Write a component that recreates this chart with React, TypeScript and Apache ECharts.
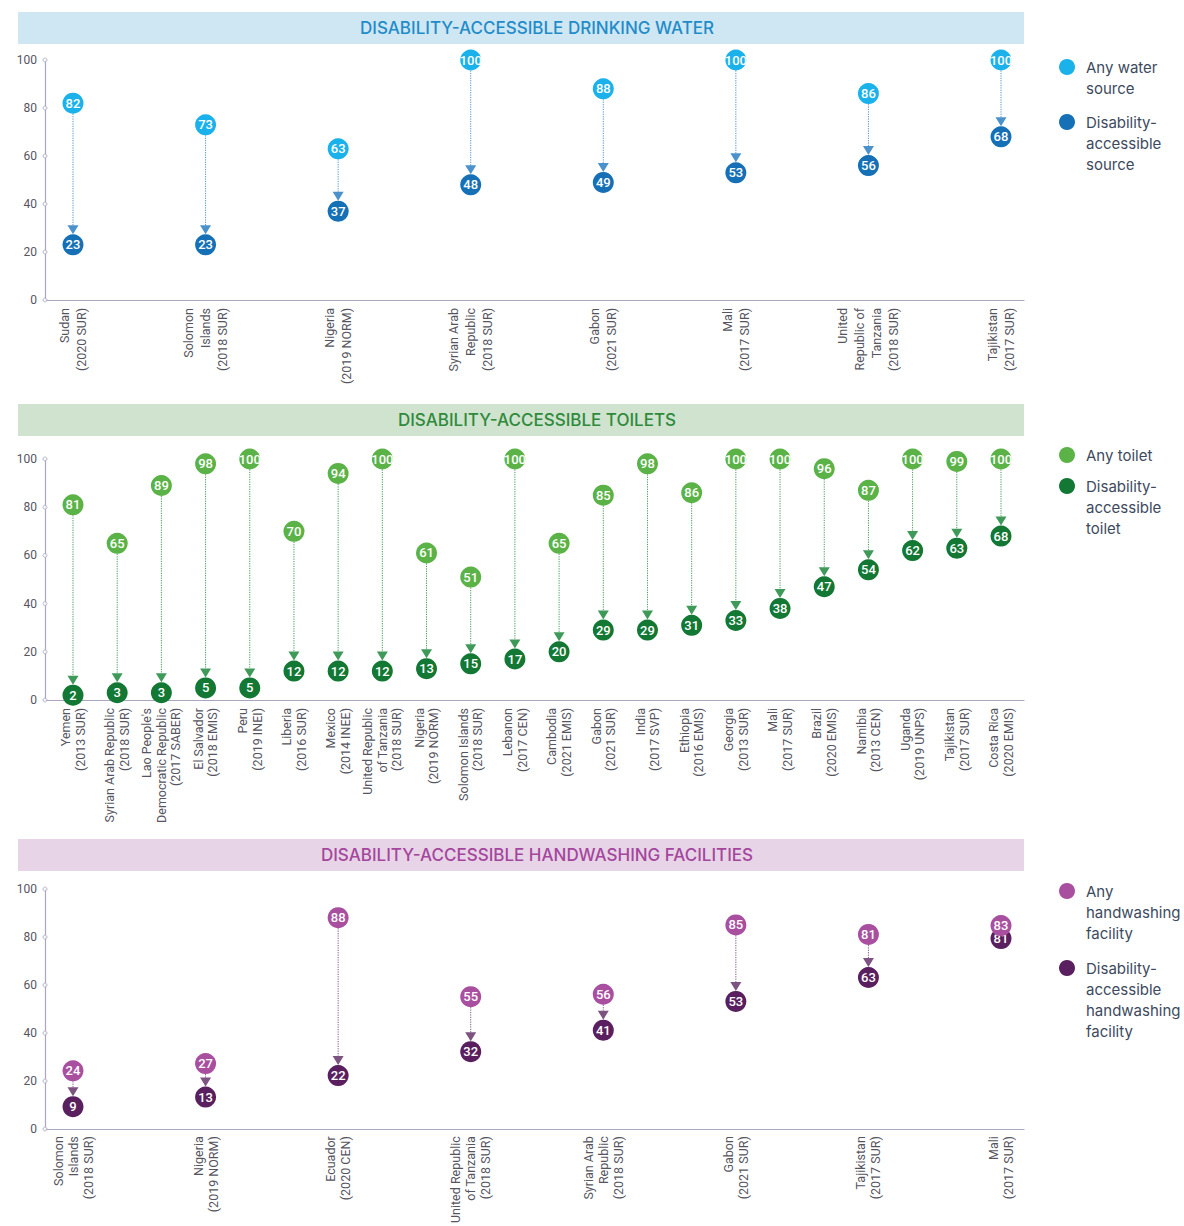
import React, { useEffect, useRef } from "react";
import * as echarts from "echarts";

// ---------- DATA ----------
const waterCategories = [
  "Sudan\n(2020 SUR)",
  "Solomon\nIslands\n(2018 SUR)",
  "Nigeria\n(2019 NORM)",
  "Syrian Arab\nRepublic\n(2018 SUR)",
  "Gabon\n(2021 SUR)",
  "Mali\n(2017 SUR)",
  "United\nRepublic of\nTanzania\n(2018 SUR)",
  "Tajikistan\n(2017 SUR)",
];
const waterAny = [82, 73, 63, 100, 88, 100, 86, 100];
const waterAccessible = [23, 23, 37, 48, 49, 53, 56, 68];

const toiletCategories = [
  "Yemen\n(2013 SUR)",
  "Syrian Arab Republic\n(2018 SUR)",
  "Lao People's\nDemocratic Republic\n(2017 SABER)",
  "El Salvador\n(2018 EMIS)",
  "Peru\n(2019 INEI)",
  "Liberia\n(2016 SUR)",
  "Mexico\n(2014 INEE)",
  "United Republic\nof Tanzania\n(2018 SUR)",
  "Nigeria\n(2019 NORM)",
  "Solomon Islands\n(2018 SUR)",
  "Lebanon\n(2017 CEN)",
  "Cambodia\n(2021 EMIS)",
  "Gabon\n(2021 SUR)",
  "India\n(2017 SVP)",
  "Ethiopia\n(2016 EMIS)",
  "Georgia\n(2013 SUR)",
  "Mali\n(2017 SUR)",
  "Brazil\n(2020 EMIS)",
  "Namibia\n(2013 CEN)",
  "Uganda\n(2019 UNPS)",
  "Tajikistan\n(2017 SUR)",
  "Costa Rica\n(2020 EMIS)",
];
const toiletAny = [81, 65, 89, 98, 100, 70, 94, 100, 61, 51, 100, 65, 85, 98, 86, 100, 100, 96, 87, 100, 99, 100];
const toiletAccessible = [2, 3, 3, 5, 5, 12, 12, 12, 13, 15, 17, 20, 29, 29, 31, 33, 38, 47, 54, 62, 63, 68];

const handCategories = [
  "Solomon\nIslands\n(2018 SUR)",
  "Nigeria\n(2019 NORM)",
  "Ecuador\n(2020 CEN)",
  "United Republic\nof Tanzania\n(2018 SUR)",
  "Syrian Arab\nRepublic\n(2018 SUR)",
  "Gabon\n(2021 SUR)",
  "Tajikistan\n(2017 SUR)",
  "Mali\n(2017 SUR)",
];
const handAny = [24, 27, 88, 55, 56, 85, 81, 83];
const handAccessible = [9, 13, 22, 32, 41, 53, 63, 81];

const yTicks = [0, 20, 40, 60, 80, 100];

const panelTitles = [
  "DISABILITY-ACCESSIBLE DRINKING WATER",
  "DISABILITY-ACCESSIBLE TOILETS",
  "DISABILITY-ACCESSIBLE HANDWASHING FACILITIES",
];
const legendWater = ["Any water\nsource", "Disability-\naccessible\nsource"];
const legendToilet = ["Any toilet", "Disability-\naccessible\ntoilet"];
const legendHand = ["Any\nhandwashing\nfacility", "Disability-\naccessible\nhandwashing\nfacility"];

// ---------- LAYOUT / STYLE ----------
const W = 1184;
const H = 1226;
const AXIS_COLOR = "#a9a7c0";
const LABEL_COLOR = "#55555f";
const FONT = "Roboto, 'Liberation Sans', sans-serif";
const UI_FONT = "Inter, 'Noto Sans', sans-serif";

const panels = [
  {
    title: panelTitles[0], cats: waterCategories, any: waterAny, acc: waterAccessible,
    legend: legendWater, barY: 12, top: 60, height: 240, legendY: [67, 122], catLineHeight: 17,
    bar: "#cfe6f3", titleColor: "#1f8cca", anyColor: "#1bb1ea", accColor: "#1570b6", arrow: "#4b92cd",
  },
  {
    title: panelTitles[1], cats: toiletCategories, any: toiletAny, acc: toiletAccessible,
    legend: legendToilet, barY: 404, top: 459, height: 241, legendY: [455, 486], catLineHeight: 14.5,
    bar: "#cfe3cf", titleColor: "#2f8a3c", anyColor: "#5bb348", accColor: "#127834", arrow: "#3f9a59",
  },
  {
    title: panelTitles[2], cats: handCategories, any: handAny, acc: handAccessible,
    legend: legendHand, barY: 839, top: 889, height: 240, legendY: [891, 968], catLineHeight: 15,
    bar: "#e8d4e7", titleColor: "#a4469d", anyColor: "#a94fa0", accColor: "#5a1f5e", arrow: "#7d5382",
  },
];

const R = 10.5;
const MIN_SEP = 13; // px between centres of two circles of one pair

function buildOption() {
  const grid: any[] = [];
  const xAxis: any[] = [];
  const yAxis: any[] = [];
  const series: any[] = [];
  const graphic: any[] = [];

  panels.forEach((p, k) => {
    const fi = 2 * k;
    const di = 2 * k + 1;
    const pxPerUnit = p.height / 100;
    grid.push({ left: 45, width: 1024 - 45, top: p.top, height: p.height });
    grid.push({ left: 73, width: 1001 - 73, top: p.top, height: p.height });

    xAxis.push({
      gridIndex: fi, type: "value", min: 0, max: 1,
      axisLine: { show: true, lineStyle: { color: AXIS_COLOR, width: 1.2 } },
      axisTick: { show: false }, axisLabel: { show: false }, splitLine: { show: false },
    });
    xAxis.push({
      gridIndex: di, type: "category", data: p.cats, boundaryGap: false,
      axisLine: { show: false }, axisTick: { show: false }, splitLine: { show: false },
      axisLabel: {
        rotate: 90, interval: 0, margin: 8, color: LABEL_COLOR,
        fontSize: 12.5, lineHeight: p.catLineHeight, fontFamily: FONT,
      },
    });
    yAxis.push({
      gridIndex: fi, type: "value", min: 0, max: 100, interval: 20,
      axisLine: { show: true, lineStyle: { color: AXIS_COLOR, width: 1.2 } },
      axisTick: { show: false }, splitLine: { show: false },
      axisLabel: { margin: 8, color: LABEL_COLOR, fontSize: 12, fontFamily: FONT },
    });
    yAxis.push({ gridIndex: di, type: "value", min: 0, max: 100, show: false });

    // little open circles on the y axis ticks
    series.push({
      type: "scatter", xAxisIndex: fi, yAxisIndex: fi, silent: true, z: 3,
      symbol: "circle", symbolSize: 4,
      itemStyle: { color: "#ffffff", borderColor: AXIS_COLOR, borderWidth: 1 },
      data: yTicks.map((v) => [0, v]),
    });

    // arrows
    series.push({
      type: "custom", xAxisIndex: di, yAxisIndex: di, silent: true, z: 2,
      data: p.cats.map((c, i) => [i, p.any[i], p.acc[i]]),
      renderItem: (params: any, api: any) => {
        const i = api.value(0);
        const a = api.coord([i, api.value(1)]);
        const b = api.coord([i, api.value(2)]);
        const y1 = a[1] + R;
        const tip = b[1] - R;
        const base = tip - 9;
        if (base - y1 < 2) return null;
        const x = a[0];
        return {
          type: "group",
          children: [
            {
              type: "line",
              shape: { x1: x, y1: y1, x2: x, y2: base },
              style: { stroke: p.arrow, lineWidth: 1, lineDash: [1.2, 1.2] },
            },
            {
              type: "polygon",
              shape: { points: [[x - 5.5, base], [x + 5.5, base], [x, tip]] },
              style: { fill: p.arrow },
            },
          ],
        };
      },
    });

    // separate circles of a pair that would nearly coincide (display only)
    const shift = p.any.map((v, i) => {
      const gap = (v - p.acc[i]) * pxPerUnit;
      return gap < MIN_SEP ? (MIN_SEP - gap) / 2 : 0;
    });

    const labelStyle = {
      show: true, position: "inside", color: "#ffffff", fontSize: 13,
      fontFamily: FONT, fontWeight: 500, formatter: "{c}",
    };
    series.push({
      type: "scatter", name: p.legend[1], xAxisIndex: di, yAxisIndex: di, z: 4,
      symbol: "circle", symbolSize: 2 * R,
      itemStyle: { color: p.accColor, opacity: 1 },
      label: labelStyle,
      data: p.acc.map((v, i) => (shift[i] ? { value: v, symbolOffset: [0, shift[i]] } : v)),
    });
    series.push({
      type: "scatter", name: p.legend[0], xAxisIndex: di, yAxisIndex: di, z: 5,
      symbol: "circle", symbolSize: 2 * R,
      itemStyle: { color: p.anyColor, opacity: 1 },
      label: labelStyle,
      data: p.any.map((v, i) => (shift[i] ? { value: v, symbolOffset: [0, -shift[i]] } : v)),
    });

    // title bar
    graphic.push({
      type: "rect", shape: { x: 18, y: p.barY, width: 1006, height: 32 },
      style: { fill: p.bar }, silent: true, z: 0,
    });
    graphic.push({
      type: "text", x: 537, y: p.barY + 16, silent: true, z: 1,
      style: {
        text: p.title, fill: p.titleColor, fontSize: 17, fontWeight: 500,
        fontFamily: UI_FONT, align: "center", verticalAlign: "middle",
        textAlign: "center", textVerticalAlign: "middle",
      },
    });

    // legend
    p.legend.forEach((txt, j) => {
      const cy = p.legendY[j];
      graphic.push({
        type: "circle", shape: { cx: 1067, cy, r: 8 },
        style: { fill: j === 0 ? p.anyColor : p.accColor }, silent: true,
      });
      graphic.push({
        type: "text", x: 1086, y: cy - 10.5, silent: true,
        style: {
          text: txt, fill: "#3d4a5e", fontSize: 15, lineHeight: 21,
          fontFamily: UI_FONT, align: "left", verticalAlign: "top",
          textAlign: "left", textVerticalAlign: "top",
        },
      });
    });
  });

  return {
    animation: false,
    backgroundColor: "#ffffff",
    grid, xAxis, yAxis, series, graphic,
  };
}

export default function App() {
  const ref = useRef<HTMLDivElement>(null);
  useEffect(() => {
    if (!ref.current) return;
    const chart = echarts.init(ref.current, undefined, { renderer: "svg" });
    chart.setOption(buildOption() as any);
    return () => chart.dispose();
  }, []);
  return (
    <div
      ref={ref}
      style={{ position: "absolute", left: 0, top: 0, width: W, height: H, background: "#fff" }}
    />
  );
}
